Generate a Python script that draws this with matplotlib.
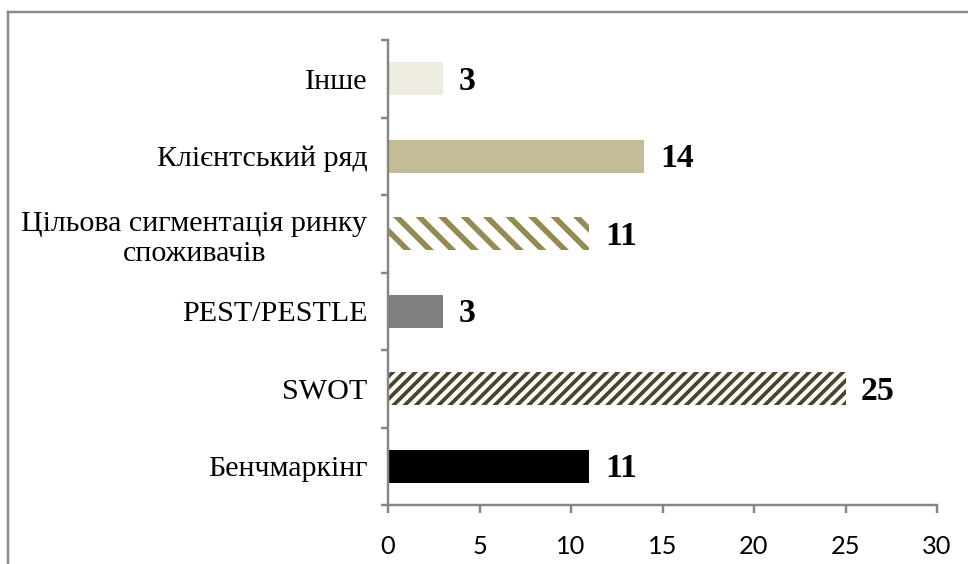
import matplotlib.pyplot as plt
from matplotlib.lines import Line2D
from matplotlib.ticker import FixedLocator, NullFormatter

# Methods used, listed bottom-to-top as they appear on the y axis
categories = [
    "Бенчмаркінг",
    "SWOT",
    "PEST/PESTLE",
    "Цільова сигментація ринку\nспоживачів",
    "Клієнтський ряд",
    "Інше",
]
counts = [11, 25, 3, 11, 14, 3]

face_colors = ["#000000", "white", "#7f7f7f", "white", "#c4bc96", "#eeebe1"]
hatch_colors = ["#000000", "#4a452a", "#7f7f7f", "#948a54", "#c4bc96", "#eeebe1"]
hatches = [None, "////", None, "\\\\", None, None]
hatch_widths = [None, 2.0, None, 3.0, None, None]

x_ticks = [0, 5, 10, 15, 20, 25, 30]

DPI = 135
W, H = 968, 564

fig = plt.figure(figsize=(W / DPI, H / DPI), dpi=DPI)
ax = fig.add_axes([388 / W, 1 - 505 / H, (937 - 388) / W, (505 - 40) / H])

serif = ["Liberation Serif", "DejaVu Serif"]
axis_grey = "#868686"

y = list(range(len(categories)))
for yi, val, fc, hc, ht, hw in zip(y, counts, face_colors, hatch_colors,
                                   hatches, hatch_widths):
    bar = ax.barh(yi, val, height=0.42, color=fc, edgecolor=hc,
                  linewidth=0, hatch=ht)
    if hw:
        for p in bar:
            try:
                p.set_hatch_linewidth(hw)
            except AttributeError:
                pass
    ax.text(val + 0.85, yi - 0.03, str(val), ha="left", va="center",
            fontsize=18, fontweight="bold", family=serif, color="black")

ax.set_xlim(0, 30)
ax.set_ylim(-0.5, len(categories) - 0.5)

# category labels sit at bar centres, tick marks at the boundaries
ax.yaxis.set_major_locator(FixedLocator([i - 0.5 for i in range(len(categories) + 1)]))
ax.yaxis.set_major_formatter(NullFormatter())
ax.yaxis.set_minor_locator(FixedLocator(y))
ax.set_yticklabels(categories, minor=True, family=serif, fontsize=16,
                   ha="right", multialignment="center")
ax.tick_params(axis="y", which="minor", length=0, pad=11)
ax.tick_params(axis="y", which="major", length=4, width=1.3, color=axis_grey,
               direction="out")

ax.set_xticks(x_ticks)
ax.set_xticklabels([str(t) for t in x_ticks], family=["Lato", "DejaVu Sans"],
                   fontsize=13.5)
ax.tick_params(axis="x", length=4, width=1.3, color=axis_grey, pad=12)

for side in ("top", "right"):
    ax.spines[side].set_visible(False)
for side in ("left", "bottom"):
    ax.spines[side].set_color(axis_grey)
    ax.spines[side].set_linewidth(1.3)

# outer chart-area border (runs off the right and bottom edges)
border_kw = dict(color="#8c8c8c", linewidth=1.3, transform=fig.transFigure)
fig.add_artist(Line2D([8 / W, 8 / W], [1 - 12 / H, 0], **border_kw))
fig.add_artist(Line2D([8 / W, 1], [1 - 12 / H, 1 - 12 / H], **border_kw))

fig.savefig("out.png", dpi=DPI, facecolor="white")
